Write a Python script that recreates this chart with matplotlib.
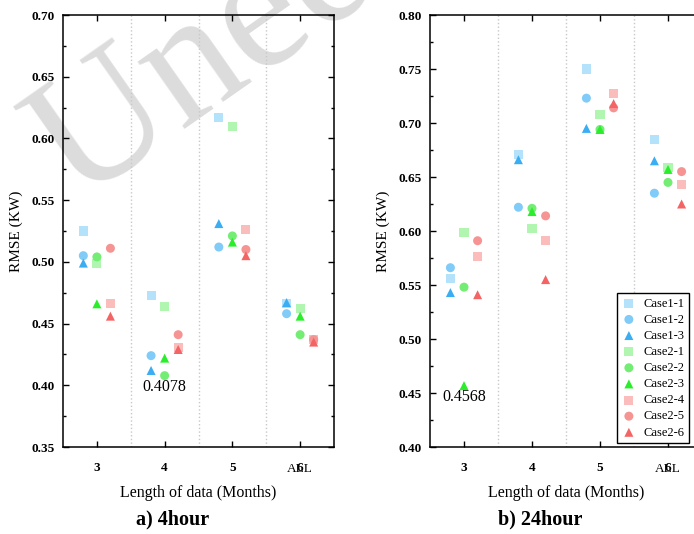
import matplotlib
matplotlib.use("Agg")
import matplotlib.pyplot as plt
import matplotlib.transforms as mtransforms
import numpy as np

plt.rcParams['font.family'] = ['Liberation Serif', 'DejaVu Serif']

groups = ["3", "4", "5", "ALL"]
group_pos = [3, 4, 5, 6]
series_names = ["Case1-1", "Case1-2", "Case1-3", "Case2-1", "Case2-2", "Case2-3",
                "Case2-4", "Case2-5", "Case2-6"]
series_offsets = [-0.2, -0.2, -0.2, 0.0, 0.0, 0.0, 0.2, 0.2, 0.2]
series_markers = ["s", "o", "^", "s", "o", "^", "s", "o", "^"]
series_colors = ["#b5e2fb", "#80cbf7", "#3badf3",
                 "#b0f6b0", "#74ed74", "#2aee2a",
                 "#fbbcbc", "#f69494", "#f46464"]

# RMSE values, 4hour horizon (groups 3, 4, 5, ALL)
rmse_4h = {
    "Case1-1": [0.525, 0.473, 0.617, 0.466],
    "Case1-2": [0.505, 0.424, 0.512, 0.458],
    "Case1-3": [0.499, 0.412, 0.531, 0.467],
    "Case2-1": [0.499, 0.464, 0.610, 0.462],
    "Case2-2": [0.504, 0.4078, 0.521, 0.441],
    "Case2-3": [0.466, 0.422, 0.516, 0.456],
    "Case2-4": [0.466, 0.431, 0.526, 0.437],
    "Case2-5": [0.511, 0.441, 0.510, 0.437],
    "Case2-6": [0.456, 0.429, 0.505, 0.435],
}
# RMSE values, 24hour horizon
rmse_24h = {
    "Case1-1": [0.556, 0.671, 0.750, 0.685],
    "Case1-2": [0.566, 0.622, 0.723, 0.635],
    "Case1-3": [0.543, 0.666, 0.695, 0.665],
    "Case2-1": [0.599, 0.602, 0.708, 0.659],
    "Case2-2": [0.548, 0.621, 0.694, 0.645],
    "Case2-3": [0.4568, 0.618, 0.694, 0.657],
    "Case2-4": [0.576, 0.591, 0.727, 0.643],
    "Case2-5": [0.591, 0.614, 0.714, 0.655],
    "Case2-6": [0.541, 0.555, 0.718, 0.625],
}

W, H = 694, 534
fig = plt.figure(figsize=(W / 100, H / 100), dpi=100)

# watermark behind everything
fig.text(76 / W, 1 - 202 / H, "Unedited", fontsize=128, color="#dcdcdc",
         rotation=35, rotation_mode="anchor", ha="left", va="baseline", zorder=-5,
         family="Liberation Serif", clip_on=True)

def make_axes(left_px, right_px, data, ylim, yticks, annot, title, title_x):
    ax = fig.add_axes([left_px / W, (H - 447) / H, (right_px - left_px) / W, (447 - 15) / H])
    ax.set_facecolor("none")
    for x in [3.5, 4.5, 5.5]:
        ax.axvline(x, color="#c8c8c8", lw=1.0, ls=":", zorder=1)
    for name, off, mk, col in zip(series_names, series_offsets, series_markers, series_colors):
        xs = np.array(group_pos) + off
        ax.scatter(xs, data[name], marker=mk, s=42, color=col, edgecolors="none",
                   label=name, zorder=3)
    ax.set_xlim(2.5, 6.5)
    ax.set_ylim(*ylim)
    ax.set_xticks(group_pos)
    ax.set_xticklabels(["3", "4", "5", "6"], fontweight="bold", fontsize=9.5)
    ax.set_yticks(yticks)
    ax.set_yticklabels([f"{v:.2f}" for v in yticks], fontweight="bold", fontsize=9.5)
    ax.set_yticks(np.arange(ylim[0] + 0.025, ylim[1], 0.05), minor=True)
    ax.tick_params(which="both", direction="in", top=True, right=True)
    ax.tick_params(which="major", length=4.5, width=1.0)
    ax.tick_params(which="minor", length=2.5, width=1.0)
    ax.tick_params(axis="x", pad=11)
    ax.tick_params(axis="y", pad=6)
    for sp in ax.spines.values():
        sp.set_linewidth(1.1)
    trans = mtransforms.blended_transform_factory(ax.transData, ax.transAxes)
    ax.text(6, -0.052, "ALL", transform=trans, ha="center", va="center", fontsize=9.5)
    ax.set_ylabel("RMSE (KW)", fontsize=11, labelpad=6)
    ax.set_xlabel("Length of data (Months)", fontsize=11.5, labelpad=8)
    ax.text(annot[0], annot[1], annot[2], ha="center", va="center", fontsize=11.5, zorder=4)
    fig.text(title_x / W, 1 - 519 / H, title, ha="center", va="center",
             fontsize=14.5, fontweight="bold")
    return ax

ax1 = make_axes(63, 334, rmse_4h, (0.35, 0.70), np.arange(0.35, 0.701, 0.05),
                (4.0, 0.3986, "0.4078"), "a) 4hour", 173)
ax2 = make_axes(430, 702, rmse_24h, (0.40, 0.80), np.arange(0.40, 0.801, 0.05),
                (3.0, 0.4463, "0.4568"), "b) 24hour", 540)

leg = ax2.legend(loc="upper left", bbox_to_anchor=(0.6875, 0.356), fontsize=9,
                 frameon=True, fancybox=False, edgecolor="black", framealpha=1,
                 labelspacing=0.33, handletextpad=0.6, borderpad=0.35,
                 handlelength=1.2, scatterpoints=1, borderaxespad=0)
leg.get_frame().set_linewidth(1.0)
leg.set_zorder(6)

fig.savefig("out.png", dpi=100)
